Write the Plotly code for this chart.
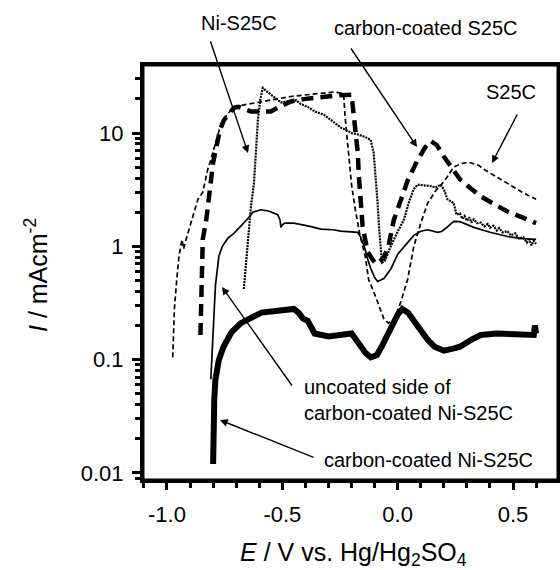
import plotly.graph_objects as go

# ---- data ----
s25c_x = [-0.975, -0.972, -0.968, -0.958, -0.948, -0.935, -0.928, -0.92, -0.896, -0.866, -0.845,
          -0.823, -0.81, -0.79, -0.766, -0.74, -0.71, -0.68, -0.61, -0.55, -0.463, -0.37, -0.277,
          -0.245, -0.234, -0.228, -0.215, -0.2, -0.185, -0.165, -0.14, -0.126, -0.1, -0.08, -0.06,
          -0.04, -0.015, 0.013, 0.043, 0.07, 0.1, 0.13, 0.165, 0.2, 0.243, 0.28, 0.31, 0.35, 0.372,
          0.42, 0.476, 0.54, 0.6]
s25c_y = [0.105, 0.18, 0.28, 0.5, 0.82, 1.15, 0.95, 1.1, 1.6, 2.6, 3.0,
          4.8, 5.8, 8.0, 12.0, 14.5, 17.0, 17.5, 18.6, 19.5, 21.0, 22.0, 23.0,
          22.5, 21.8, 14.0, 7.0, 3.5, 2.2, 1.3, 0.8, 0.51, 0.38, 0.29, 0.23,
          0.21, 0.23, 0.32, 0.51, 1.0, 1.6, 2.4, 3.1, 3.7, 5.0, 5.4, 5.5, 5.2, 4.8,
          4.2, 3.6, 3.0, 2.6]

ccs25c_x = [-0.855, -0.853, -0.849, -0.845, -0.83, -0.82, -0.81, -0.8, -0.77, -0.753, -0.71, -0.69,
            -0.636, -0.6, -0.55, -0.5, -0.463, -0.4, -0.32, -0.25, -0.2, -0.19, -0.18, -0.173,
            -0.168, -0.16, -0.152, -0.13, -0.1, -0.087, -0.06, -0.04, -0.017, 0.015, 0.043, 0.087,
            0.12, 0.143, 0.17, 0.2, 0.23, 0.27, 0.32, 0.36, 0.42, 0.476, 0.54, 0.6]
ccs25c_y = [0.165, 0.28, 0.6, 1.15, 1.7, 2.6, 3.5, 5.5, 10.7, 13.0, 16.7, 17.0,
            15.5, 15.5, 15.5, 17.5, 19.0, 20.0, 21.0, 21.5, 21.8, 15.0, 9.0, 6.7,
            4.1, 2.6, 1.5, 0.89, 0.72, 0.7, 0.8, 1.0, 1.7, 2.6, 3.8, 5.8,
            7.5, 8.5, 7.8, 6.2, 5.0, 3.9, 3.2, 2.76, 2.35, 2.03, 1.8, 1.6]

nis25c_x = [-0.667, -0.655, -0.65, -0.636, -0.623, -0.615, -0.606, -0.595, -0.585, -0.57, -0.55,
            -0.53, -0.506, -0.48, -0.46, -0.44, -0.42, -0.39, -0.36, -0.32, -0.28, -0.247, -0.2,
            -0.173, -0.14, -0.117, -0.104, -0.095, -0.087, -0.08, -0.074, -0.068, -0.055, -0.03,
            0.0, 0.026, 0.05, 0.07, 0.087, 0.11, 0.143, 0.165, 0.186, 0.2, 0.216, 0.23, 0.243,
            0.255, 0.27, 0.28, 0.29, 0.3, 0.31, 0.32, 0.33, 0.345, 0.36, 0.375, 0.39, 0.4, 0.415,
            0.43, 0.44, 0.455, 0.476, 0.49, 0.51, 0.525, 0.545, 0.56, 0.57, 0.58, 0.59, 0.6]
nis25c_y = [0.42, 0.8, 1.15, 2.25, 3.6, 6.0, 13.0, 20.0, 25.0, 23.5, 21.8,
            20.0, 18.6, 19.0, 18.5, 19.5, 18.0, 17.0, 15.5, 14.5, 12.5, 11.2, 10.0,
            9.7, 9.2, 8.7, 6.7, 4.0, 2.4, 1.4, 1.0, 0.72, 0.75, 1.0,
            1.35, 1.7, 2.5, 3.2, 3.5, 3.45, 3.4, 3.3, 3.5, 3.2, 2.6, 2.5, 2.4,
            1.9, 1.95, 1.75, 1.85, 1.68, 1.8, 1.62, 1.73, 1.6, 1.62, 1.5, 1.58, 1.46, 1.52,
            1.38, 1.45, 1.33, 1.36, 1.25, 1.3, 1.17, 1.2, 1.08, 1.15, 1.02, 1.12, 1.05]

unc_x = [-0.81, -0.805, -0.8, -0.795, -0.79, -0.775, -0.76, -0.736, -0.71, -0.68, -0.65, -0.628,
         -0.593, -0.56, -0.52, -0.51, -0.506, -0.5, -0.49, -0.45, -0.42, -0.38, -0.333, -0.28,
         -0.247, -0.173, -0.16, -0.145, -0.13, -0.117, -0.1, -0.087, -0.06, -0.03, 0.0, 0.043,
         0.07, 0.1, 0.13, 0.173, 0.19, 0.21, 0.243, 0.27, 0.33, 0.4, 0.476, 0.54, 0.6]
unc_y = [0.067, 0.12, 0.19, 0.28, 0.45, 0.82, 1.0, 1.18, 1.3, 1.5, 1.75, 2.0,
         2.1, 2.05, 1.9, 1.7, 1.47, 1.55, 1.6, 1.6, 1.56, 1.5, 1.42, 1.4,
         1.36, 1.33, 1.2, 1.0, 0.77, 0.64, 0.53, 0.49, 0.52, 0.63, 0.85, 1.08,
         1.25, 1.36, 1.4, 1.33, 1.35, 1.45, 1.66, 1.65, 1.47, 1.33, 1.22, 1.17, 1.15]

ccni_x = [-0.8, -0.8, -0.798, -0.795, -0.79, -0.775, -0.755, -0.72, -0.68, -0.63, -0.59, -0.52,
          -0.45, -0.43, -0.41, -0.39, -0.37, -0.36, -0.3, -0.25, -0.2, -0.17, -0.14, -0.117,
          -0.09, -0.07, -0.03, 0.0, 0.02, 0.045, 0.07, 0.1, 0.13, 0.16, 0.2, 0.24, 0.27, 0.32,
          0.36, 0.43, 0.5, 0.55, 0.59, 0.595, 0.6]
ccni_y = [0.012, 0.02, 0.03, 0.045, 0.067, 0.1, 0.13, 0.175, 0.21, 0.24, 0.26, 0.27,
          0.28, 0.26, 0.23, 0.22, 0.18, 0.17, 0.16, 0.165, 0.17, 0.14, 0.115, 0.105,
          0.11, 0.13, 0.19, 0.25, 0.28, 0.26, 0.22, 0.18, 0.15, 0.13, 0.12, 0.125, 0.13, 0.15,
          0.165, 0.17, 0.17, 0.168, 0.165, 0.2, 0.17]

x_tickvals = [-1.0, -0.5, 0.0, 0.5]
x_ticktext = ["-1.0", "-0.5", "0.0", "0.5"]
y_tickvals = [0.01, 0.1, 1, 10]
y_ticktext = ["0.01", "0.1", "1", "10"]

FONT = "Liberation Sans, Arial, sans-serif"

fig = go.Figure()
fig.add_trace(go.Scatter(x=s25c_x, y=s25c_y, mode="lines", name="S25C",
                         line=dict(color="black", width=1.7, dash="5px,3px")))
fig.add_trace(go.Scatter(x=ccs25c_x, y=ccs25c_y, mode="lines", name="carbon-coated S25C",
                         line=dict(color="black", width=4.5, dash="12px,7px")))
fig.add_trace(go.Scatter(x=nis25c_x, y=nis25c_y, mode="lines", name="Ni-S25C",
                         line=dict(color="black", width=2.2, dash="2px,1px")))
fig.add_trace(go.Scatter(x=unc_x, y=unc_y, mode="lines", name="uncoated side",
                         line=dict(color="black", width=1.7)))
fig.add_trace(go.Scatter(x=ccni_x, y=ccni_y, mode="lines", name="carbon-coated Ni-S25C",
                         line=dict(color="black", width=6)))

W, H = 560, 570
L, R, T, B = 143, 2, 65, 90
PW, PH = W - L - R, H - T - B


def px2paper(px, py):
    return (px - L) / PW, (H - B - py) / PH


annotations = []


def text_ann(txt, px, py, xanchor="center", align="center", size=20, angle=0):
    xp, yp = px2paper(px, py)
    annotations.append(dict(text=txt, x=xp, y=yp, xref="paper", yref="paper",
                            xanchor=xanchor, yanchor="middle", align=align, showarrow=False,
                            textangle=angle,
                            font=dict(family=FONT, size=size, color="black")))


def arrow_ann(tail, tip):
    xp, yp = px2paper(*tip)
    annotations.append(dict(text="", x=xp, y=yp, xref="paper", yref="paper",
                            ax=tail[0] - tip[0], ay=tail[1] - tip[1],
                            showarrow=True, arrowhead=2, arrowsize=1.1, arrowwidth=1.4,
                            arrowcolor="black"))


text_ann("Ni-S25C", 239, 23)
text_ann("carbon-coated S25C", 425, 28)
text_ann("S25C", 511, 92)
text_ann("uncoated side of<br>carbon-coated Ni-S25C", 302, 400, xanchor="left", align="left")
text_ann("carbon-coated Ni-S25C", 322, 460, xanchor="left", align="left")

arrow_ann((210, 40), (248, 153))
arrow_ann((350, 47), (417, 147))
arrow_ann((518, 113), (492, 163))
arrow_ann((293, 387), (222, 287))
arrow_ann((315, 458), (220, 420))

text_ann("<i>E</i> / V vs. Hg/Hg<sub>2</sub>SO<sub>4</sub>", 353, 554, size=25)
text_ann("<i>I</i> / mAcm<sup>-2</sup>", 36, 275, size=25, angle=-90)

fig.update_layout(
    template="none",
    width=W, height=H,
    margin=dict(l=L, r=R, t=T, b=B, pad=0),
    paper_bgcolor="white", plot_bgcolor="white",
    showlegend=False,
    font=dict(family=FONT, size=22, color="black"),
    annotations=annotations,
    shapes=[dict(type="rect", xref="paper", yref="paper", x0=0, x1=1, y0=0, y1=1,
                 line=dict(color="black", width=3), layer="above")],
    xaxis=dict(range=[-1.104, 0.695], showgrid=False, zeroline=False, automargin=False,
               showline=True, linecolor="black", linewidth=3, mirror=True,
               ticks="outside", ticklen=7, tickwidth=3, tickcolor="black",
               tickvals=x_tickvals, ticktext=x_ticktext, ticklabelstandoff=6,
               tickfont=dict(family=FONT, size=22, color="black"),
               minor=dict(ticks="outside", dtick=0.1, tick0=0, ticklen=5, tickwidth=3,
                          tickcolor="black", showgrid=False)),
    yaxis=dict(type="log", range=[-2.062, 1.6], showgrid=False, zeroline=False, automargin=False,
               showline=True, linecolor="black", linewidth=3, mirror=True,
               ticks="outside", ticklen=8, tickwidth=3, tickcolor="black",
               tickvals=y_tickvals, ticktext=y_ticktext, ticklabelstandoff=4,
               tickfont=dict(family=FONT, size=22, color="black"),
               minor=dict(ticks="outside", dtick="D1", ticklen=5, tickwidth=3,
                          tickcolor="black", showgrid=False)),
)

fig.write_html("out.html", config={"displayModeBar": False},
               post_script="document.body.style.margin='0';document.body.style.overflow='hidden';")
